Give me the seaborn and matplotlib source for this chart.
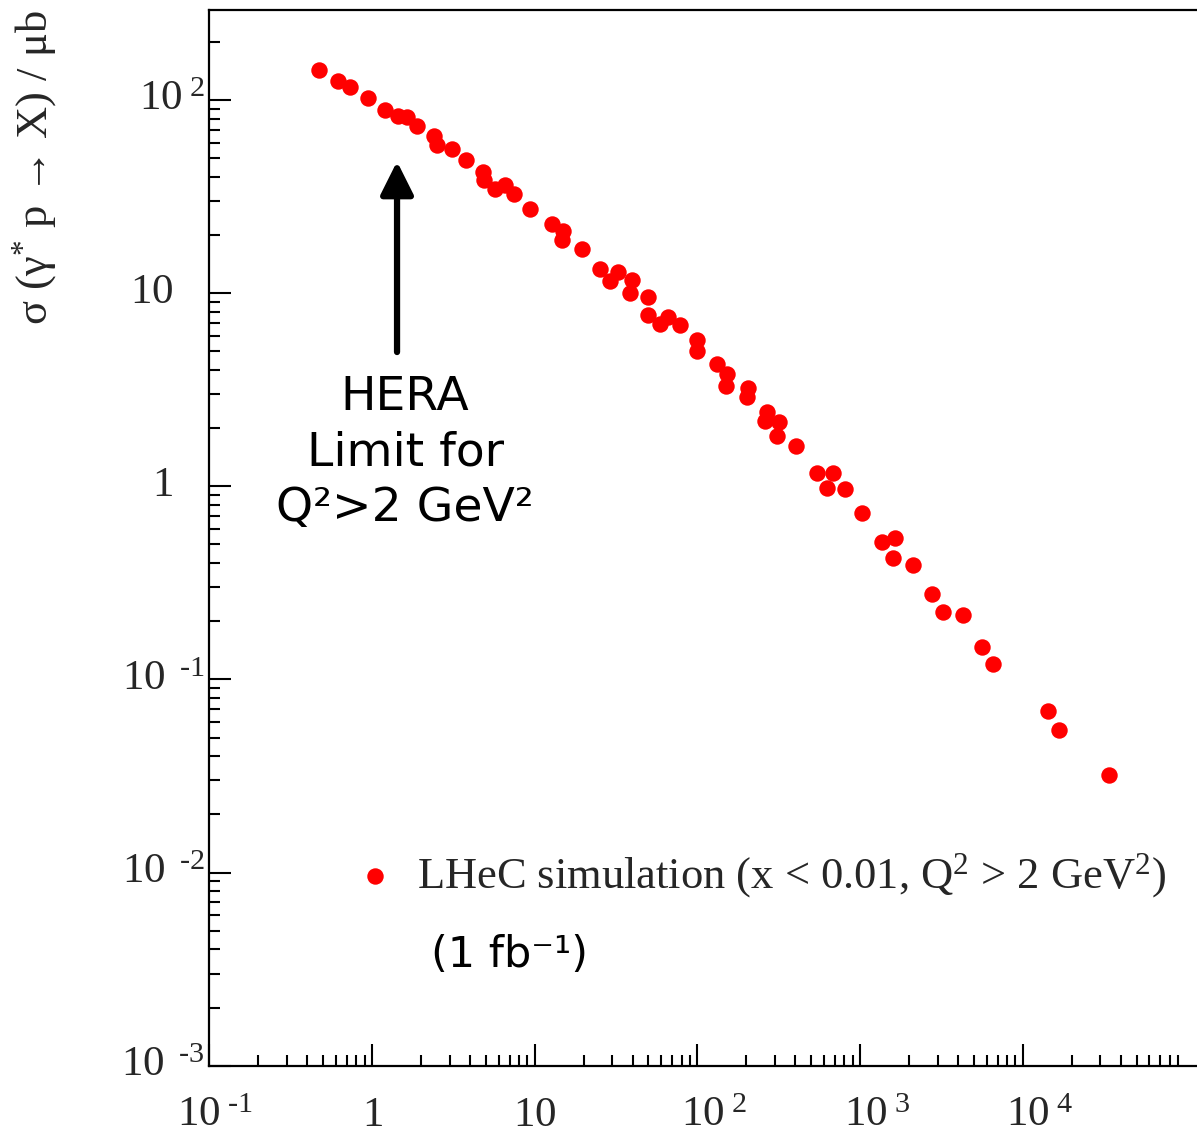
import numpy as np
import matplotlib
matplotlib.use("Agg")
import matplotlib.pyplot as plt
from matplotlib.ticker import LogLocator, FixedLocator, FixedFormatter, NullFormatter
from matplotlib.transforms import ScaledTranslation
import seaborn as sns

# Photon virtuality bins and the simulated gamma* p cross section (microbarn)
q2_values = [0.47, 0.62, 0.73, 0.94, 1.20, 1.45, 1.64, 1.88, 2.40, 2.51,
             3.09, 3.78, 4.81, 4.88, 5.70, 6.57, 7.46, 9.36, 12.8, 14.9,
             14.7, 19.5, 25.2, 29.0, 32.7, 39.5, 38.5, 49.9, 49.9, 58.9,
             65.9, 78.2, 99.4, 99.4, 131.5, 153, 149, 206, 203, 268,
             262, 318, 307, 404, 541, 684, 623, 807, 1023, 1358,
             1638, 1600, 2123, 2754, 3246, 4273, 5585, 6590, 14350, 16750,
             34040]
sigma_values = [143, 126, 117, 102.4, 88.8, 82.2, 81.6, 73.3, 64.7, 58.5,
                55.8, 48.9, 42.1, 38.5, 34.6, 36.3, 32.6, 27.3, 22.8, 21.0,
                18.8, 17.0, 13.4, 11.56, 12.9, 11.7, 9.98, 9.58, 7.70, 6.92,
                7.55, 6.84, 5.72, 5.02, 4.30, 3.81, 3.31, 3.22, 2.91, 2.43,
                2.18, 2.16, 1.82, 1.62, 1.17, 1.17, 0.976, 0.968, 0.725, 0.516,
                0.540, 0.424, 0.391, 0.277, 0.224, 0.2156, 0.1477, 0.1197, 0.0689, 0.0547,
                0.0320]

x_tick_values = [0.1, 1, 10, 100, 1000, 10000]
x_tick_labels = [r"$10^{\ \text{-1}}$", r"$1$", r"$10$", r"$10^{\ 2}$", r"$10^{\ 3}$", r"$10^{\ 4}$"]
y_tick_values = [1e-3, 1e-2, 1e-1, 1, 10, 100]
y_tick_labels = [r"$10^{\ \ \text{-3}}$", r"$10^{\ \ \text{-2}}$", r"$10^{\ \ \text{-1}}$", r"$1$", r"$10$", r"$10^{\ 2}$"]

legend_label = r"LHeC simulation (x < 0.01, Q$^{2}$ > 2 GeV$^{2}$)"
hera_text = "HERA\nLimit for\nQ²>2 GeV²"
lumi_text = "(1 fb⁻¹)"
y_title = "σ (γ$^{*}$ p → X) / μb"

sns.set_style("ticks")
plt.rcParams["font.family"] = ["Liberation Serif", "DejaVu Serif"]
plt.rcParams["mathtext.fontset"] = "custom"
plt.rcParams["mathtext.rm"] = "Liberation Serif"
plt.rcParams["mathtext.it"] = "Liberation Serif:italic"
plt.rcParams["mathtext.bf"] = "Liberation Serif:bold"
plt.rcParams["mathtext.default"] = "regular"

W, H = 1197, 1138
fig = plt.figure(figsize=(W / 100, H / 100), dpi=100)
fig.patch.set_facecolor("white")

ax_left, ax_bottom, ax_top = 209.3, 1065.7, 10.0
ax_width_px = 1004.9
ax = fig.add_axes([ax_left / W, (H - ax_bottom) / H, ax_width_px / W, (ax_bottom - ax_top) / H])
ax.set_facecolor("white")

sns.scatterplot(x=q2_values, y=sigma_values, ax=ax, color="#ff0000", s=140,
                linewidth=0, marker="o", label=legend_label, zorder=3)

ax.set_xscale("log")
ax.set_yscale("log")
ax.set_xlim(0.1, 1.5e5)
ax.set_ylim(1e-3, 292)

ax.xaxis.set_major_locator(FixedLocator(x_tick_values))
ax.xaxis.set_major_formatter(FixedFormatter(x_tick_labels))
ax.yaxis.set_major_locator(FixedLocator(y_tick_values))
ax.yaxis.set_major_formatter(FixedFormatter(y_tick_labels))
ax.xaxis.set_minor_locator(LogLocator(base=10, subs=np.arange(2, 10), numticks=100))
ax.yaxis.set_minor_locator(LogLocator(base=10, subs=np.arange(2, 10), numticks=100))
ax.xaxis.set_minor_formatter(NullFormatter())
ax.yaxis.set_minor_formatter(NullFormatter())

ax.tick_params(which="both", direction="in", top=False, right=False, color="black", width=1.5)
ax.tick_params(which="major", length=16)
ax.tick_params(which="minor", length=8)
ax.tick_params(axis="x", which="major", labelsize=31, pad=22)
ax.tick_params(axis="y", which="major", labelsize=31, pad=3)

# Plain labels sit further left; exponent labels keep the mantissa near the tick
px = 1 / 100
for tick, text in zip(ax.yaxis.get_major_ticks(), y_tick_labels):
    tick.label1.set_verticalalignment("center")
    if "^" not in text:
        tick.label1.set_transform(tick.label1.get_transform()
                                  + ScaledTranslation(-32 * px, 0, fig.dpi_scale_trans))
for tick, text in zip(ax.xaxis.get_major_ticks(), x_tick_labels):
    if "^" in text:
        shift = 6 if "-" in text else 17
        tick.label1.set_transform(tick.label1.get_transform()
                                  + ScaledTranslation(shift * px, 0, fig.dpi_scale_trans))

for side in ["left", "bottom", "top", "right"]:
    ax.spines[side].set_color("black")
    ax.spines[side].set_linewidth(1.6)
    ax.spines[side].set_visible(True)

ax.grid(False)

# Legend entry placed inside the frame near the bottom
handle_len = 1.0
fs_leg = 32
leg_left_px = 375 - 0.5 * handle_len * fs_leg * 100 / 72
ax.legend(loc="center left",
          bbox_to_anchor=((leg_left_px - ax_left) / ax_width_px, (ax_bottom - 876) / (ax_bottom - ax_top)),
          frameon=False, fontsize=fs_leg, handlelength=handle_len, handletextpad=0.45,
          borderpad=0, borderaxespad=0, markerscale=1.0)

# HERA kinematic limit marker
ax.annotate("", xy=(1.425, 48.0), xytext=(1.425, 4.95),
            arrowprops=dict(arrowstyle="-|>,head_length=1.0,head_width=0.5", color="black",
                            lw=4.5, mutation_scale=20, shrinkA=0, shrinkB=0))
ax.text(1.6, 3.77, hera_text, ha="center", va="top", fontsize=34,
        family=["DejaVu Sans"], linespacing=1.3, color="black")
ax.text(6.95, 0.00374, lumi_text, ha="center", va="center", fontsize=31,
        family=["DejaVu Sans"], color="black")

fig.text(35 / W, 1 - 10 / H, y_title, rotation=90, ha="center", va="top",
         fontsize=32, family=["Liberation Serif", "DejaVu Serif"])

fig.savefig("out.png", dpi=100, facecolor="white")
